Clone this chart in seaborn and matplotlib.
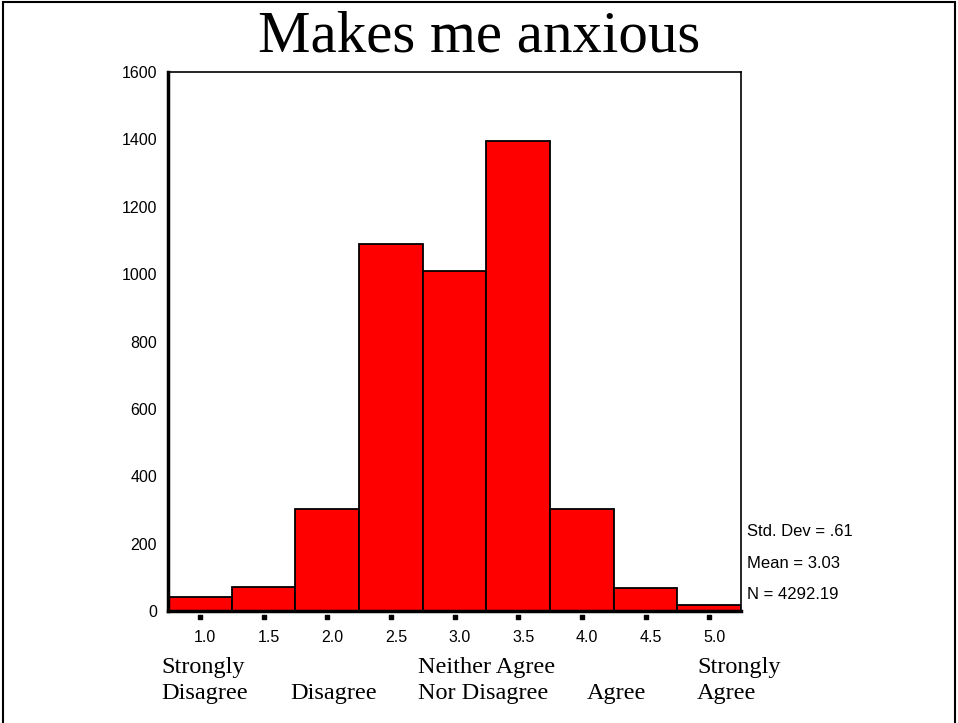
import matplotlib.pyplot as plt
import matplotlib.transforms as transforms
import matplotlib.patches as patches
import seaborn as sns
import numpy as np

# response scale midpoints and weighted counts
scores = [1.0, 1.5, 2.0, 2.5, 3.0, 3.5, 4.0, 4.5, 5.0]
counts = [42, 70, 303, 1089, 1009, 1395, 303, 68, 19]
tick_labels = ['1.0', '1.5', '2.0', '2.5', '3.0', '3.5', '4.0', '4.5', '5.0']
anchor_labels = ['Strongly\nDisagree', '\nDisagree', 'Neither Agree\nNor Disagree', '\nAgree', 'Strongly\nAgree']
stats = ['Std. Dev = .61', 'Mean = 3.03', 'N = 4292.19']

# where the anchor labels sit (axes fraction, left edge)
anchor_x = [-0.012, 0.213, 0.436, 0.731, 0.923]

sns.set_style('white')
plt.rcParams['font.family'] = ['Liberation Sans', 'DejaVu Sans']
plt.rcParams['text.color'] = 'black'

fig = plt.figure(figsize=(9.58, 7.23), dpi=100)
ax = fig.add_axes([0.1754, 0.1549, 0.5981, 0.7455])

sns.histplot(x=scores, weights=counts, binwidth=0.5, binrange=(0.75, 5.25),
             color='#ff0000', alpha=1, edgecolor='black', linewidth=1.3, ax=ax)

ax.set_xlim(0.75, 5.25)
ax.set_ylim(0, 1600)
ax.set_yticks(np.arange(0, 1601, 200))
ax.set_xticks(scores)
ax.set_xticklabels(tick_labels)
ax.set_xlabel('')
ax.set_ylabel('')
ax.tick_params(axis='x', length=0, pad=14, labelsize=11.5, colors='black')
ax.tick_params(axis='y', direction='out', length=5, width=3, pad=3, labelsize=11.5, colors='black')

# labels in the original sit a few pixels right of the bar centres
shift = transforms.ScaledTranslation(5 / 100, 0, fig.dpi_scale_trans)
for lab in ax.get_xticklabels():
    lab.set_transform(lab.get_transform() + shift)

for s in ['left', 'bottom']:
    ax.spines[s].set_linewidth(2.5)
for s in ['top', 'right']:
    ax.spines[s].set_linewidth(1.2)
for s in ax.spines.values():
    s.set_color('black')

# dots under each bar centre
trans = transforms.blended_transform_factory(ax.transData, ax.transAxes)
ax.scatter(scores, [-0.012] * len(scores), s=9, marker='s', color='black',
           transform=trans, clip_on=False)

# anchor labels
for x, lab in zip(anchor_x, anchor_labels):
    ax.text(x, -0.085, lab, transform=ax.transAxes, ha='left', va='top',
            fontsize=17.5, family='Liberation Serif', linespacing=1.3)

# stats box
for i, t in enumerate(stats):
    ax.text(1.011, 0.147 - i * 0.0585, t, transform=ax.transAxes, ha='left',
            va='center', fontsize=12)

fig.text(0.5, 0.948, 'Makes me anxious', ha='center', va='center',
         fontsize=42.5, family='Liberation Serif')

fig.patches.append(patches.Rectangle((0.003, -0.01), 0.994, 1.007, transform=fig.transFigure,
                                     fill=False, edgecolor='black', linewidth=1.5))

fig.savefig('out.png', dpi=100)
